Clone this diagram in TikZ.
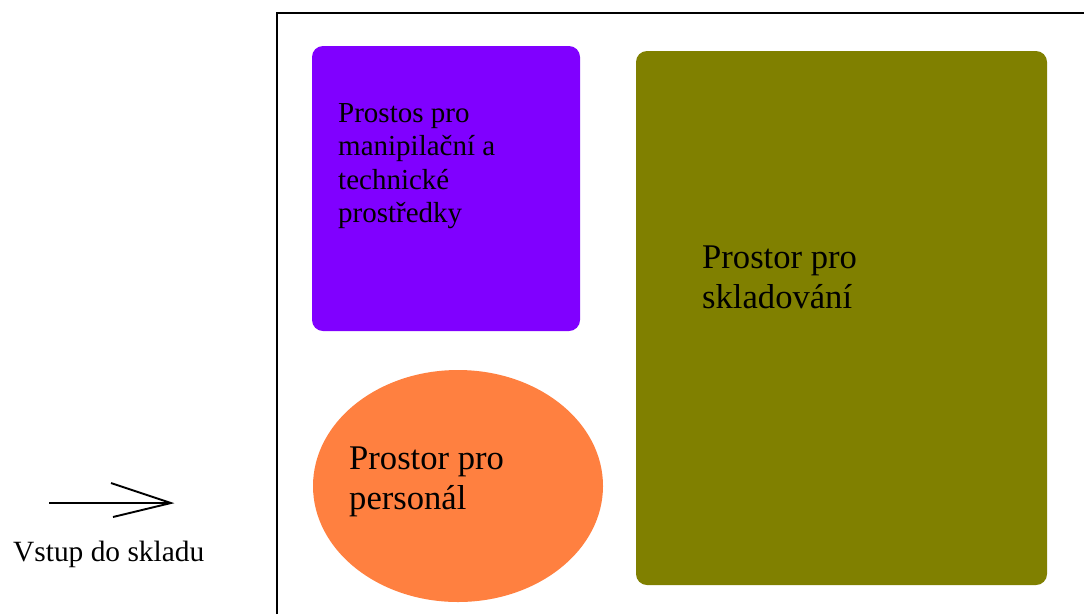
\documentclass[tikz,border=0pt]{standalone}
\usepackage{fontspec}
\setmainfont{Liberation Serif}
\definecolor{violetbox}{HTML}{8000FF}
\definecolor{olivebox}{HTML}{808000}
\definecolor{orangebox}{HTML}{FF8040}
\tikzset{
  x=1pt,y=-1pt,
  boxlabel/.style={anchor=north west,inner sep=0pt,align=left,font=\fontsize{34.6}{39.7}\selectfont},
  smalllabel/.style={anchor=north west,inner sep=0pt,align=left,font=\fontsize{29}{33.2}\selectfont},
  area/.style={rounded corners=11pt,draw=none}
}
\begin{document}
\begin{tikzpicture}
\useasboundingbox (0,0) rectangle (1084,614);
\fill[white] (0,0) rectangle (1084,614);
\draw[line width=2.4pt] (277,614) -- (277,13) -- (1084,13);
\fill[violetbox,area] (312,46) rectangle (580,331);
\fill[olivebox,area] (636,51) rectangle (1047,585);
\fill[orangebox] (458,486) ellipse [x radius=145,y radius=116];
\node[smalllabel] (a) at (338,103.5) {Prostos pro\\manipilační a\\technické\\prostředky};
\node[boxlabel] (b) at (702,246) {Prostor pro\\skladování};
\node[boxlabel] (c) at (349,446.5) {Prostor pro\\personál};
\coordinate (s) at (49,503);
\coordinate (e) at (171,503);
\draw[line width=1.9pt] (s) -- (e);
\draw[line width=1.9pt] (111,483) -- (e) -- (113,517);
\node[anchor=north west,inner sep=0pt,font=\fontsize{29.4}{34}\selectfont] (d) at (13,541) {Vstup do skladu};
\end{tikzpicture}
\end{document}
